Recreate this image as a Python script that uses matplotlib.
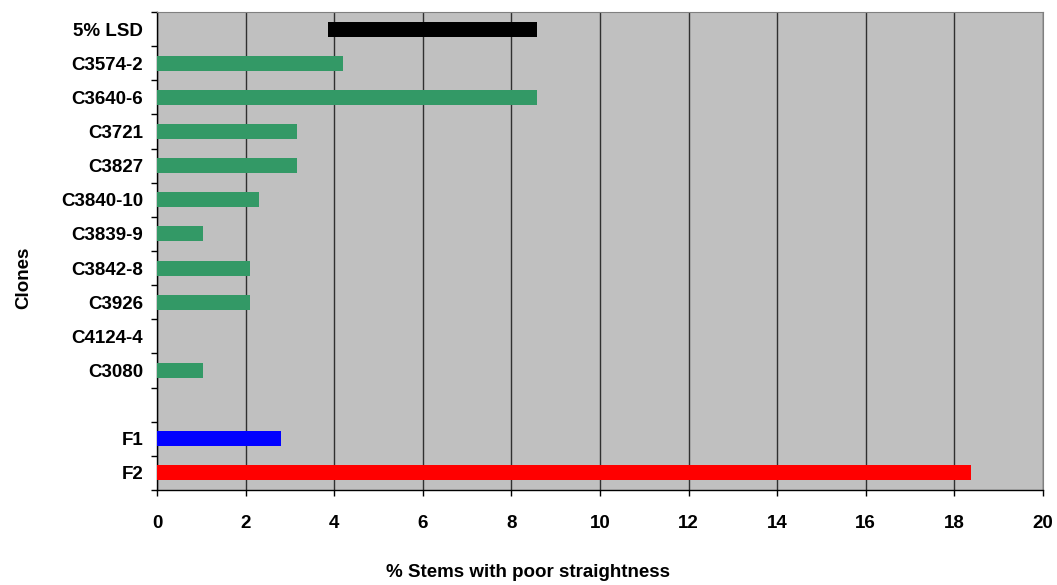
import matplotlib
matplotlib.use("Agg")
import matplotlib.pyplot as plt
from matplotlib.ticker import FixedLocator, NullFormatter
import numpy as np

plt.rcParams['font.family'] = ['Liberation Sans', 'DejaVu Sans']
plt.rcParams['font.weight'] = 'bold'

# Rows from top to bottom ("" is the spacer row between clones and families)
labels = ["5% LSD", "C3574-2", "C3640-6", "C3721", "C3827", "C3840-10",
          "C3839-9", "C3842-8", "C3926", "C4124-4", "C3080", "", "F1", "F2"]
clone_names = ["C3574-2", "C3640-6", "C3721", "C3827", "C3840-10",
               "C3839-9", "C3842-8", "C3926", "C4124-4", "C3080"]
clone_values = [4.19, 8.58, 3.15, 3.15, 2.31, 1.04, 2.10, 2.10, 0.0, 1.04]
family_names = ["F1", "F2"]
family_values = [2.81, 18.38]
family_colors = ["#0000FF", "#FF0000"]
lsd_start = 3.85
lsd_width = 4.73

fig = plt.figure(figsize=(10.57, 5.85), dpi=100)
ax = fig.add_axes([0.1485, 0.1624, 0.8382, 0.8171])
ax.set_facecolor("#C0C0C0")

pos = {name: i for i, name in enumerate(labels)}
bh = 0.44

ax.barh(pos["5% LSD"], lsd_width, left=lsd_start, height=bh, color="black", zorder=3)
ax.barh([pos[n] for n in clone_names], clone_values, height=bh, color="#339966", zorder=3)
ax.barh([pos[n] for n in family_names], family_values, height=bh,
        color=family_colors, zorder=3)

ax.set_xlim(0, 20)
ax.set_ylim(len(labels) - 0.5, -0.5)
ax.set_xticks(np.arange(0, 21, 2))
ax.set_xticklabels([str(v) for v in range(0, 21, 2)], fontsize=13.5, fontweight='bold')
ax.xaxis.grid(True, color="#303030", linewidth=1.0, zorder=1)

ax.set_yticks(range(len(labels)))
ax.set_yticklabels(labels, fontsize=13.5, fontweight='bold')
ax.tick_params(axis='y', length=0, pad=10)
ax.yaxis.set_minor_locator(FixedLocator(np.arange(-0.5, len(labels), 1.0)))
ax.yaxis.set_minor_formatter(NullFormatter())
ax.tick_params(axis='y', which='minor', length=4, width=1, color='black')
ax.tick_params(axis='x', length=4, width=1, color='black', pad=14)

ax.spines["top"].set_color("#808080")
ax.spines["right"].set_color("#808080")
ax.spines["left"].set_color("black")
ax.spines["bottom"].set_color("black")
ax.spines["left"].set_linewidth(1)
ax.spines["bottom"].set_linewidth(1)

fig.text(0.5, 0.022, "% Stems with poor straightness", fontsize=13.5,
         fontweight='bold', ha='center', va='center')
fig.text(0.022, 0.525, "Clones", rotation=90, fontsize=13.5, fontweight='bold',
         ha='center', va='center')

fig.savefig("out.png", dpi=100)
